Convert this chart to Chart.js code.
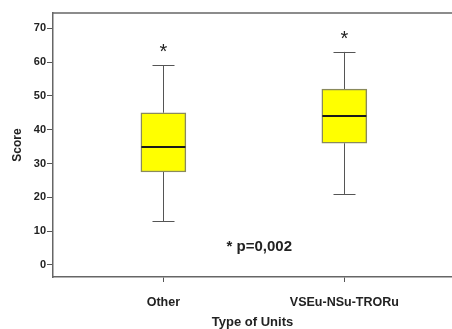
<!DOCTYPE html>
<html lang="en">
<head>
    <meta charset="UTF-8">
    <title>Score by Type of Units</title>
    <script src="https://cdn.jsdelivr.net/npm/chart.js"></script>
    <style>
        body {
            margin: 0;
            padding: 0;
            background-color: #fff;
        }
        .chartBox {
            width: 452px;
            height: 329px;
        }
    </style>
</head>
<body>
    <div class="chartBox">
        <canvas id="myChart"></canvas>
    </div>
    <script>
        // box plot summaries
        const groups = ['Other', 'VSEu-NSu-TRORu'];
        const groupX = [1, 2];
        const mins = [13, 21];
        const q1s = [27.5, 36];
        const medians = [35, 44];
        const q3s = [45, 52];
        const maxs = [59, 63];
        const starY = [64, 68];
        const yTicks = [0, 10, 20, 30, 40, 50, 60, 70];
        const noteText = '* p=0,002';
        const noteX = 1.53;
        const noteY = 5.5;

        const FONT = "'Liberation Sans', Arial, sans-serif";

        // whiskers, medians, stars, note and the top frame line
        const boxPlugin = {
            id: 'boxWhiskers',
            beforeDatasetsDraw(chart) {
                const {ctx, scales: {x, y}} = chart;
                ctx.save();
                ctx.strokeStyle = '#555';
                ctx.lineWidth = 1;
                groupX.forEach((gx, i) => {
                    const px = Math.round(x.getPixelForValue(gx)) + 0.5;
                    const cap = 11;
                    ctx.beginPath();
                    ctx.moveTo(px, y.getPixelForValue(maxs[i]));
                    ctx.lineTo(px, y.getPixelForValue(q3s[i]));
                    ctx.moveTo(px, y.getPixelForValue(q1s[i]));
                    ctx.lineTo(px, y.getPixelForValue(mins[i]));
                    ctx.moveTo(px - cap, Math.round(y.getPixelForValue(maxs[i])) + 0.5);
                    ctx.lineTo(px + cap, Math.round(y.getPixelForValue(maxs[i])) + 0.5);
                    ctx.moveTo(px - cap, Math.round(y.getPixelForValue(mins[i])) + 0.5);
                    ctx.lineTo(px + cap, Math.round(y.getPixelForValue(mins[i])) + 0.5);
                    ctx.stroke();
                });
                ctx.restore();
            },
            afterDatasetsDraw(chart) {
                const {ctx, chartArea, scales: {x, y}} = chart;
                ctx.save();
                // medians
                ctx.strokeStyle = '#1a1a1a';
                ctx.lineWidth = 2;
                groupX.forEach((gx, i) => {
                    const px = x.getPixelForValue(gx);
                    const py = Math.round(y.getPixelForValue(medians[i]));
                    ctx.beginPath();
                    ctx.moveTo(px - 22, py);
                    ctx.lineTo(px + 22, py);
                    ctx.stroke();
                });
                // stars
                ctx.fillStyle = '#222';
                ctx.textAlign = 'center';
                ctx.textBaseline = 'middle';
                ctx.font = '20px ' + FONT;
                groupX.forEach((gx, i) => {
                    ctx.fillText('*', x.getPixelForValue(gx), y.getPixelForValue(starY[i]) + 4);
                });
                // p value note
                ctx.font = 'bold 15px ' + FONT;
                ctx.fillText(noteText, x.getPixelForValue(noteX), y.getPixelForValue(noteY));
                // top frame
                ctx.strokeStyle = '#666';
                ctx.lineWidth = 1.5;
                ctx.beginPath();
                ctx.moveTo(chartArea.left, chartArea.top);
                ctx.lineTo(chartArea.right, chartArea.top);
                ctx.stroke();
                ctx.restore();
            }
        };

        const ctx = document.getElementById('myChart');

        const myChart = new Chart(ctx, {
            type: 'bar',
            data: {
                datasets: [{
                    label: 'Score',
                    data: groupX.map((gx, i) => ({x: gx, y: [q1s[i], q3s[i]]})),
                    backgroundColor: '#ffff00',
                    borderColor: '#8a8a5c',
                    borderWidth: 1.5,
                    borderSkipped: false,
                    barThickness: 45,
                }]
            },
            plugins: [boxPlugin],
            options: {
                responsive: true,
                maintainAspectRatio: false,
                animation: false,
                layout: {
                    padding: {top: 13, right: 0, left: 0, bottom: 0}
                },
                plugins: {
                    legend: {display: false},
                    tooltip: {enabled: false}
                },
                scales: {
                    x: {
                        type: 'linear',
                        offset: false,
                        min: 0.39,
                        max: 2.595,
                        afterBuildTicks: (scale) => {
                            scale.ticks = groupX.map(v => ({value: v}));
                        },
                        afterFit: (scale) => {
                            scale.height = 52;
                        },
                        ticks: {
                            callback: (value) => groups[groupX.indexOf(value)],
                            autoSkip: false,
                            maxRotation: 0,
                            padding: 13,
                            color: '#222',
                            font: {family: FONT, size: 12.5, weight: 'bold'}
                        },
                        grid: {
                            offset: false,
                            drawOnChartArea: false,
                            drawTicks: true,
                            tickLength: 5,
                            color: '#555'
                        },
                        border: {color: '#666', width: 1.5},
                        title: {
                            display: true,
                            text: 'Type of Units',
                            color: '#222',
                            padding: {top: 0, bottom: 0},
                            font: {family: FONT, size: 13, weight: 'bold', lineHeight: 1}
                        }
                    },
                    y: {
                        min: -3.55,
                        max: 74.5,
                        afterBuildTicks: (scale) => {
                            scale.ticks = yTicks.map(v => ({value: v}));
                        },
                        afterFit: (scale) => {
                            scale.width = 53;
                        },
                        ticks: {
                            padding: 1,
                            color: '#222',
                            font: {family: FONT, size: 11, weight: 'bold'}
                        },
                        grid: {
                            drawOnChartArea: false,
                            drawTicks: true,
                            tickLength: 6,
                            color: '#555'
                        },
                        border: {color: '#666', width: 1.5},
                        title: {
                            display: true,
                            text: 'Score',
                            color: '#222',
                            padding: {top: 10, bottom: 0},
                            font: {family: FONT, size: 12, weight: 'bold'}
                        }
                    }
                }
            }
        });
    </script>
</body>
</html>
